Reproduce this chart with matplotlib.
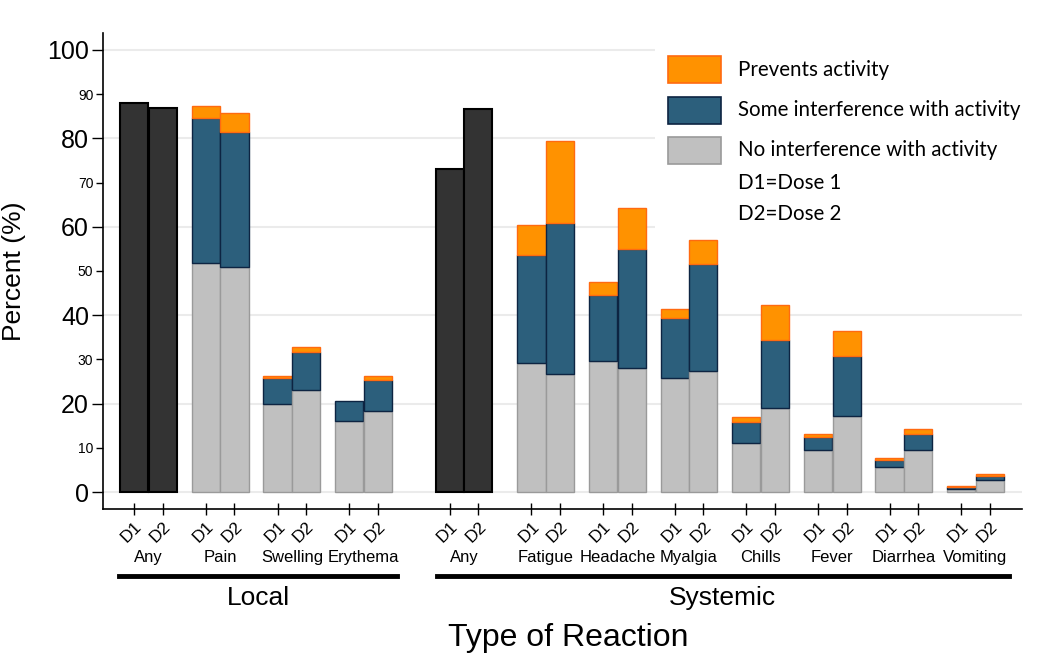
import matplotlib
matplotlib.use("Agg")
import matplotlib.pyplot as plt
from matplotlib.patches import Rectangle
from matplotlib.lines import Line2D
import matplotlib.transforms as mtransforms

# ---------------- data ----------------
local_categories = ["Any", "Pain", "Swelling", "Erythema"]
systemic_categories = ["Any", "Fatigue", "Headache", "Myalgia", "Chills",
                       "Fever", "Diarrhea", "Vomiting"]
dose_labels = ["D1", "D2"]

# "Any" reaction (D1, D2)
local_any = [87.9, 86.9]
systemic_any = [73.0, 86.7]

# stacked segments per category (D1, D2) for Pain..Erythema, Fatigue..Vomiting
stack_categories = ["Pain", "Swelling", "Erythema", "Fatigue", "Headache",
                    "Myalgia", "Chills", "Fever", "Diarrhea", "Vomiting"]
no_interference_d1 = [51.9, 19.9, 16.0, 29.3, 29.7, 25.9, 11.2, 9.5, 5.6, 0.8]
no_interference_d2 = [50.8, 23.1, 18.4, 26.8, 28.1, 27.4, 19.0, 17.3, 9.5, 2.7]
some_interference_d1 = [32.6, 6.0, 4.7, 24.4, 14.9, 13.5, 4.7, 2.9, 1.6, 0.3]
some_interference_d2 = [30.7, 8.6, 6.9, 34.0, 26.8, 24.1, 15.3, 13.5, 3.6, 1.0]
prevents_d1 = [2.9, 0.4, 0.0, 6.7, 2.9, 2.0, 1.1, 0.8, 0.6, 0.3]
prevents_d2 = [4.3, 1.2, 0.9, 18.5, 9.4, 5.4, 8.0, 5.6, 1.2, 0.5]

legend_labels = ["Prevents activity", "Some interference with activity",
                 "No interference with activity"]
legend_notes = ["D1=Dose 1", "D2=Dose 2"]

major_yticks = [0, 20, 40, 60, 80, 100]
minor_yticks = [10, 30, 50, 70, 90]

# ---------------- style ----------------
W, H = 1050, 663
C_ORANGE, E_ORANGE = "#ff9200", "#ff6a10"
C_BLUE, E_BLUE = "#2c5f7c", "#0d2442"
C_GRAY, E_GRAY = "#c0c0c0", "#9a9a9a"
C_DARK, E_DARK = "#333333", "#000000"
SANS = ["Liberation Sans", "DejaVu Sans"]
LEG = ["Lato", "DejaVu Sans"]
plt.rcParams["font.family"] = SANS

fig = plt.figure(figsize=(W / 100, H / 100), dpi=100)


def fx(x):
    return x / W


def fy(y):
    return 1 - y / H


ax = fig.add_axes([fx(103), fy(509), fx(1022) - fx(103), fy(33) - fy(509)])

# group positions (D1 slot; D2 is +1)
local_pos = [0 + 2.5 * i for i in range(len(local_categories))]
systemic_pos = [11.0] + [13.85 + 2.495 * i for i in range(len(systemic_categories) - 1)]
all_pos = local_pos + systemic_pos
all_names = local_categories + systemic_categories
bw = 0.98

# Any bars
for gpos, vals in ((local_pos[0], local_any), (systemic_pos[0], systemic_any)):
    for k, v in enumerate(vals):
        ax.bar(gpos + k, v, width=bw, color=C_DARK, edgecolor=E_DARK,
               linewidth=1.5, zorder=3)

# stacked bars
stack_pos = local_pos[1:] + systemic_pos[1:]
for i, gpos in enumerate(stack_pos):
    for k, (g, b, o) in enumerate(((no_interference_d1[i], some_interference_d1[i], prevents_d1[i]),
                                   (no_interference_d2[i], some_interference_d2[i], prevents_d2[i]))):
        x = gpos + k
        ax.bar(x, g, width=bw, color=C_GRAY, edgecolor=E_GRAY, linewidth=1.0, zorder=3)
        ax.bar(x, b, bottom=g, width=bw, color=C_BLUE, edgecolor=E_BLUE, linewidth=1.0, zorder=3)
        if o > 0:
            ax.bar(x, o, bottom=g + b, width=bw, color=C_ORANGE, edgecolor=E_ORANGE,
                   linewidth=1.0, zorder=3)

# axes limits
px_per_unit = 28.7
xmin = -(134 - 103) / px_per_unit
ax.set_xlim(xmin, xmin + 919 / px_per_unit)
ax.set_ylim(-3.8, 103.8)

# spines
for s in ("top", "right"):
    ax.spines[s].set_visible(False)
ax.spines["left"].set_linewidth(1.2)
ax.spines["bottom"].set_linewidth(1.2)

# y ticks
ax.set_yticks(major_yticks)
ax.set_yticklabels([str(t) for t in major_yticks], fontsize=18)
ax.set_yticks(minor_yticks, minor=True)
ax.set_yticklabels([str(t) for t in minor_yticks], minor=True, fontsize=10)
ax.tick_params(axis="y", which="major", length=8, width=1.0, pad=2)
ax.tick_params(axis="y", which="minor", length=5, width=1.0, pad=2)
ax.set_axisbelow(True)
ax.yaxis.grid(True, which="major", color="#ebebeb", linewidth=1.5)

# x ticks
xt = []
xl = []
for p in all_pos:
    xt += [p, p + 1]
    xl += dose_labels
ax.set_xticks(xt)
ax.set_xticklabels(xl, rotation=45, ha="right", rotation_mode="anchor", fontsize=12.5)
ax.tick_params(axis="x", direction="inout", length=8, width=1.0, pad=3)

# legend background box
ax.add_patch(Rectangle((fx(655), fy(250)), fx(1045) - fx(655), fy(35) - fy(250),
                       transform=fig.transFigure, facecolor="white", edgecolor="none",
                       zorder=1))

# category labels
trans = mtransforms.blended_transform_factory(ax.transData, fig.transFigure)
for p, name in zip(all_pos, all_names):
    ax.text(p + 0.5, fy(562), name, transform=trans, ha="center", va="baseline",
            fontsize=12)

# group underlines and labels
fig.add_artist(Line2D([fx(119), fx(397)], [fy(576), fy(576)], color="black", lw=3.5))
fig.add_artist(Line2D([fx(437), fx(1009)], [fy(576), fy(576)], color="black", lw=3.5))
fig.text(fx(258), fy(605), "Local", ha="center", va="baseline", fontsize=19)
fig.text(fx(722), fy(605), "Systemic", ha="center", va="baseline", fontsize=19)
fig.text(fx(568), fy(646), "Type of Reaction", ha="center", va="baseline", fontsize=23)
fig.text(fx(14), fy(271), "Percent (%)", rotation=90, ha="center", va="center", fontsize=19)

# legend
leg_items = [(C_ORANGE, E_ORANGE, 56), (C_BLUE, E_BLUE, 97), (C_GRAY, E_GRAY, 137)]
for (fc, ec, ytop), lab in zip(leg_items, legend_labels):
    fig.add_artist(Rectangle((fx(668), fy(ytop + 27)), fx(721) - fx(668), fy(ytop) - fy(ytop + 27),
                             transform=fig.transFigure, facecolor=fc, edgecolor=ec,
                             linewidth=1.2))
    fig.text(fx(738), fy(ytop + 13.5), lab, ha="left", va="center", fontsize=14.8,
             family=LEG)
for ycen, note in zip((183, 214), legend_notes):
    fig.text(fx(738), fy(ycen), note, ha="left", va="center", fontsize=14.8, family=LEG)

fig.savefig("out.png", dpi=100)
